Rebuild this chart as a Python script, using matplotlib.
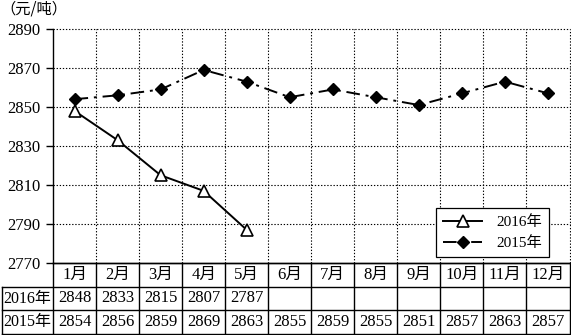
import matplotlib.pyplot as plt
from matplotlib.lines import Line2D
import numpy as np

months = ["1月", "2月", "3月", "4月", "5月", "6月", "7月", "8月", "9月", "10月", "11月", "12月"]
price_2016 = [2848, 2833, 2815, 2807, 2787]
price_2015 = [2854, 2856, 2859, 2869, 2863, 2855, 2859, 2855, 2851, 2857, 2863, 2857]
yticks = [2770, 2790, 2810, 2830, 2850, 2870, 2890]
unit_label = "（元/吨）"

FAM = ["Liberation Serif", "Noto Sans CJK SC"]
plt.rcParams["font.family"] = FAM

W, H = 571, 335
fig = plt.figure(figsize=(W / 100, H / 100), dpi=100)

# pixel layout
x0, x1 = 53, 569.5
y_top, y_bot = 29, 263
ax = fig.add_axes([x0 / W, 1 - y_bot / H, (x1 - x0) / W, (y_bot - y_top) / H])

n = len(months)
xs = np.arange(n) + 0.5
ax.set_xlim(0, n)
ax.set_ylim(yticks[0], yticks[-1])

dot = dict(color="black", lw=0.8, ls=(0, (1.2, 1.6)), zorder=1)
for y in yticks[1:]:
    ax.axhline(y, clip_on=False, **dot)
for i in range(1, n + 1):
    ax.axvline(i, clip_on=False, **dot)

for s in ["top", "right"]:
    ax.spines[s].set_visible(False)
ax.spines["left"].set_linewidth(1.0)
ax.spines["bottom"].set_linewidth(1.0)

ax.plot(xs[:len(price_2016)], price_2016, color="black", lw=1.4, marker="^",
        ms=8.5, mfc="white", mec="black", mew=1.2, zorder=3, label="2016年")
ax.plot(xs, price_2015, color="black", lw=1.4, ls=(0, (7, 3, 1.5, 3)), marker="D",
        ms=6, mfc="black", mec="black", zorder=3, label="2015年")

ax.set_xticks([])
ax.set_yticks(yticks)
ax.set_yticklabels([str(v) for v in yticks], fontsize=12)
ax.tick_params(axis="y", direction="out", length=5, width=1.0, pad=4)

fig.text(0.0, 1 - 9 / H, unit_label, fontsize=11, ha="left", va="center",
         family=["Noto Sans CJK SC"])

handles = [
    Line2D([], [], color="black", lw=1.4, marker="^", ms=8.5, mfc="white", mec="black", mew=1.2),
    Line2D([], [], color="black", lw=1.4, ls=(0, (7, 3, 1.5, 3)), marker="D", ms=6, mfc="black"),
]
leg = ax.legend(handles, ["2016年", "2015年"], loc="lower right",
                bbox_to_anchor=(0.96, 0.026),
                frameon=True, fancybox=False, edgecolor="black", framealpha=1,
                prop={"family": FAM, "size": 11}, handlelength=2.6, handletextpad=0.9,
                borderpad=0.45, labelspacing=0.45, borderaxespad=0)
leg.get_frame().set_linewidth(0.9)

# table below the plot
t_left = 2
tb_top, tb_bot = 263, 334
tax = fig.add_axes([t_left / W, 1 - tb_bot / H, (x1 - t_left) / W, (tb_bot - tb_top) / H])
c = (x0 - t_left) / ((x1 - x0) / n)
tax.set_xlim(-c, n)
tax.set_ylim(0, 3)
tax.axis("off")

lk = dict(color="black", lw=1.0, clip_on=False)
tax.plot([0, n], [3, 3], **lk)
tax.plot([-c, n], [2, 2], **lk)
tax.plot([-c, n], [1, 1], **lk)
tax.plot([-c, n], [0, 0], **lk)
tax.plot([-c, -c], [0, 2], **lk)
for i in range(0, n + 1):
    tax.plot([i, i], [0, 3], **lk)

fs = 12
for i, m in enumerate(months):
    tax.text(i + 0.5, 2.5, m, ha="center", va="center", fontsize=fs, family=FAM)
tax.text(-c / 2, 1.5, "2016年", ha="center", va="center", fontsize=11.5, family=FAM)
tax.text(-c / 2, 0.5, "2015年", ha="center", va="center", fontsize=11.5, family=FAM)
for i, v in enumerate(price_2016):
    tax.text(i + 0.5, 1.5, str(v), ha="center", va="center", fontsize=fs, family=FAM)
for i, v in enumerate(price_2015):
    tax.text(i + 0.5, 0.5, str(v), ha="center", va="center", fontsize=fs, family=FAM)

fig.savefig("out.png", dpi=100)
